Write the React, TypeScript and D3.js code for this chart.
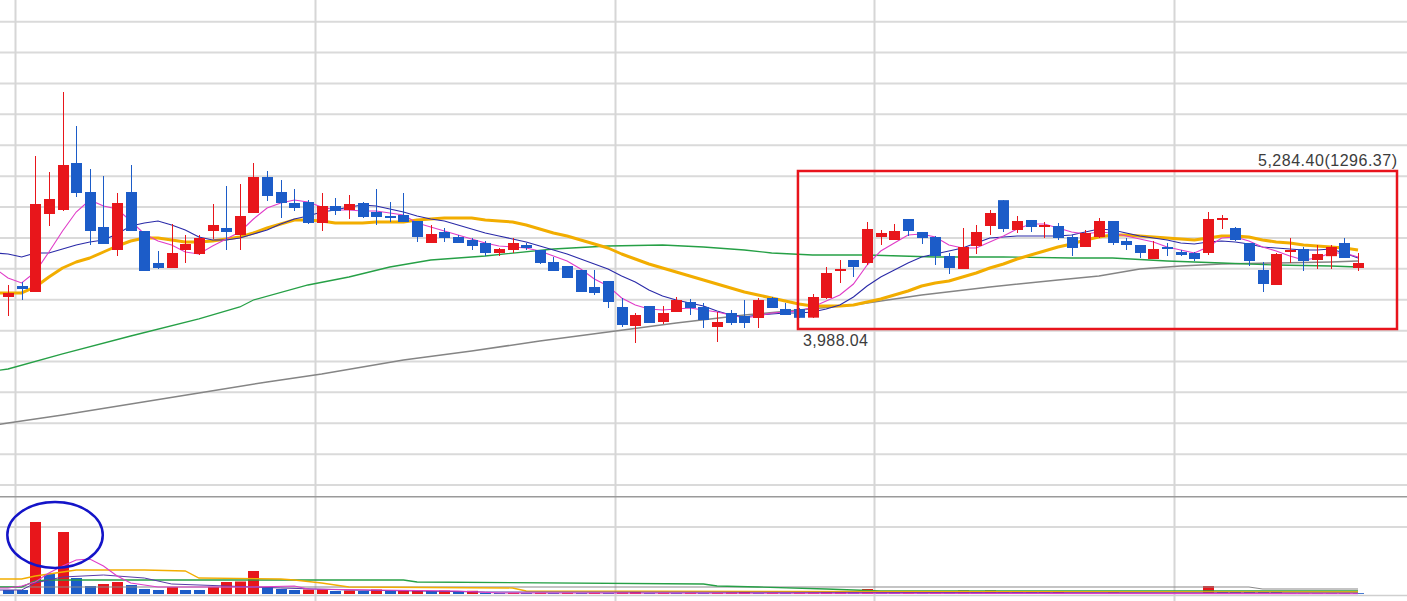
import React from 'react';
import * as d3 from 'd3';

const W = 1407;
const H = 601;

// ---- daily candles (price units) ----
const OPEN = [
  4219, 4340, 4274, 5132, 5176, 5693, 5374, 4989, 4736, 5374,
  4945, 4593, 4538, 4736, 4692, 4945, 4978, 4901, 5143, 5539,
  5374, 5253, 5264, 5033, 5220, 5176, 5253, 5154, 5110, 5121,
  5055, 4813, 4934, 4879, 4846, 4813, 4703, 4736, 4791, 4736,
  4604, 4560, 4516, 4329, 4395, 4109, 3900, 4120, 3944, 4054,
  4164, 4109, 3889, 4043, 4010, 3988, 4208, 4087, 4087, 3992,
  4208, 4505, 4626, 4593, 4879, 4846, 5077, 4934, 4879, 4670,
  4527, 4780, 5000, 5284.4, 4956, 5066, 4989, 5000, 4879, 4769,
  4879, 5055, 4835, 4791, 4637, 4769, 4714, 4703, 4703, 5066,
  4978, 4813, 4516, 4351, 4714, 4747, 4626, 4668, 4813, 4538,
];
const HIGH = [
  4351, 4384, 5770, 5594, 6474, 6100, 5627, 5550, 5363, 5671,
  4945, 4725, 5022, 4901, 4901, 5242, 5440, 5462, 5693, 5605,
  5506, 5407, 5286, 5363, 5308, 5341, 5264, 5407, 5264, 5363,
  5055, 5011, 4978, 4901, 4868, 4835, 4758, 4868, 4813, 4736,
  4659, 4560, 4516, 4516, 4395, 4208, 4043, 4120, 4120, 4219,
  4197, 4153, 4054, 4076, 4186, 4208, 4219, 4153, 4098, 4252,
  4549, 4626, 4626, 5044, 4956, 5022, 5077, 4934, 4890, 4703,
  4978, 5011, 5176, 5284.4, 5110, 5066, 5044, 5033, 4901, 4956,
  5088, 5055, 4868, 4791, 4835, 4813, 4736, 4714, 5154, 5121,
  4989, 4813, 4604, 4703, 4868, 4769, 4791, 4791, 4868, 4703,
];
const LOW = [
  4010, 4186, 4274, 5000, 5165, 5319, 4791, 4802, 4670, 4945,
  4505, 4527, 4538, 4593, 4681, 4857, 4736, 4736, 5143, 5275,
  5088, 5165, 5022, 4945, 5121, 5077, 5088, 5011, 5044, 5044,
  4824, 4813, 4824, 4813, 4736, 4670, 4670, 4703, 4736, 4582,
  4505, 4428, 4274, 4241, 4098, 3889, 3713, 3933, 3922, 4054,
  4021, 3878, 3724, 3911, 3878, 3878, 4098, 4021, 3990, 3988.04,
  4197, 4373, 4439, 4571, 4791, 4846, 4890, 4802, 4571, 4472,
  4527, 4692, 4901, 4934, 4923, 4934, 4868, 4846, 4670, 4769,
  4868, 4791, 4736, 4648, 4637, 4670, 4670, 4615, 4681, 4967,
  4835, 4560, 4274, 4351, 4593, 4505, 4527, 4527, 4648, 4505,
];
const CLOSE = [
  4263, 4307, 5242, 5297, 5671, 5363, 4945, 4802, 5253, 4945,
  4505, 4538, 4703, 4802, 4868, 5011, 4934, 5110, 5539, 5330,
  5253, 5198, 5033, 5220, 5165, 5242, 5099, 5099, 5099, 5044,
  4879, 4912, 4868, 4813, 4780, 4703, 4747, 4813, 4758, 4593,
  4505, 4428, 4274, 4263, 4164, 3911, 4021, 3933, 4043, 4186,
  4098, 3966, 3944, 3933, 3933, 4186, 4098, 4021, 3990, 4219,
  4483, 4527, 4549, 4967, 4923, 4945, 4945, 4868, 4670, 4538,
  4769, 4934, 5143, 4967, 5055, 4989, 5011, 4868, 4758, 4923,
  5055, 4813, 4791, 4703, 4747, 4747, 4681, 4637, 5077, 5088,
  4846, 4615, 4362, 4692, 4736, 4615, 4692, 4769, 4648, 4593,
];
const VOLUME = [
  40, 40, 720, 200, 620, 160, 80, 100, 120, 90,
  50, 40, 70, 40, 40, 70, 120, 125, 230, 70,
  50, 40, 45, 50, 30, 35, 30, 45, 30, 35,
  38, 30, 35, 28, 32, 12, 10, 12, 10, 12,
  10, 12, 10, 12, 10, 15, 20, 10, 12, 10,
  12, 10, 12, 15, 20, 10, 12, 10, 12, 15,
  25, 30, 20, 50, 20, 20, 22, 20, 22, 20,
  35, 20, 35, 20, 20, 20, 20, 22, 10, 10,
  10, 15, 10, 10, 10, 10, 10, 10, 80, 20,
  20, 20, 20, 20, 10, 10, 10, 10, 10, 8,
];

// ---- moving averages ----
// value on the day before the first visible candle: MA5, MA10, MA20
const MA_PRIOR_DAY = [4538, 4703, 4263];
const MA5 = [
  4428, 4373, 4494, 4714, 4945, 5154, 5286, 5220, 5187, 5055,
  4912, 4835, 4791, 4714, 4692, 4780, 4857, 4934, 5077, 5198,
  5253, 5286, 5264, 5209, 5176, 5176, 5165, 5165, 5143, 5121,
  5033, 4989, 4945, 4901, 4857, 4813, 4780, 4769, 4758, 4725,
  4670, 4615, 4527, 4417, 4340, 4208, 4131, 4087, 4076, 4087,
  4098, 4076, 4054, 4021, 3988, 4010, 4043, 4054, 4065, 4109,
  4175, 4241, 4362, 4571, 4725, 4813, 4901, 4912, 4879, 4791,
  4758, 4758, 4824, 4890, 4967, 5022, 5022, 4978, 4934, 4912,
  4934, 4923, 4890, 4857, 4824, 4769, 4736, 4703, 4769, 4868,
  4879, 4835, 4769, 4725, 4670, 4626, 4648, 4703, 4703, 4659,
];
const MA10 = [
  4692, 4659, 4703, 4703, 4747, 4791, 4824, 4846, 4912, 5000,
  5033, 5055, 5011, 4956, 4879, 4846, 4846, 4868, 4912, 4956,
  5022, 5077, 5110, 5154, 5176, 5209, 5231, 5220, 5187, 5154,
  5110, 5077, 5055, 5011, 4967, 4923, 4890, 4857, 4824, 4780,
  4736, 4692, 4637, 4582, 4527, 4450, 4384, 4296, 4230, 4186,
  4153, 4120, 4065, 4021, 3999, 4021, 4032, 4043, 4043, 4054,
  4087, 4131, 4219, 4340, 4439, 4516, 4593, 4659, 4692, 4725,
  4758, 4813, 4868, 4879, 4890, 4890, 4890, 4890, 4901, 4934,
  4967, 4956, 4923, 4890, 4868, 4846, 4813, 4802, 4824, 4835,
  4824, 4802, 4769, 4758, 4747, 4736, 4736, 4747, 4703, 4648,
];
const MA20 = [
  4263, 4263, 4329, 4439, 4538, 4604, 4648, 4714, 4780, 4835,
  4868, 4868, 4846, 4824, 4824, 4835, 4857, 4879, 4923, 4978,
  5022, 5066, 5066, 5055, 5033, 5033, 5033, 5044, 5044, 5044,
  5066, 5077, 5088, 5088, 5088, 5066, 5055, 5044, 5011, 4967,
  4923, 4890, 4846, 4802, 4758, 4692, 4637, 4582, 4538, 4494,
  4450, 4406, 4362, 4318, 4274, 4241, 4208, 4175, 4142, 4120,
  4120, 4120, 4131, 4164, 4197, 4241, 4285, 4340, 4373, 4395,
  4439, 4483, 4538, 4582, 4637, 4681, 4725, 4769, 4802, 4846,
  4879, 4901, 4901, 4890, 4879, 4868, 4857, 4846, 4868, 4890,
  4890, 4879, 4846, 4824, 4813, 4791, 4780, 4769, 4758, 4736,
];
// [day index, value]
const MA60: [number, number][] = [
  [-1, 3405], [0, 3427], [4, 3592], [9, 3790], [14, 3977], [17, 4109], [18, 4186],
  [22, 4351], [25, 4439], [28, 4549], [31, 4626], [35, 4670], [40, 4747],
  [44, 4780], [48, 4791], [51, 4769], [54, 4736], [56, 4703], [59, 4681],
  [63, 4681], [68, 4659], [73, 4659], [78, 4648], [81, 4648], [85, 4615],
  [89, 4593], [93, 4571], [97, 4560], [99, 4549],
];
const MA120: [number, number][] = [
  [-1, 2811], [0, 2833], [4, 2921], [9, 3042], [14, 3163], [19, 3284], [23, 3372],
  [29, 3526], [34, 3625], [39, 3735], [44, 3834], [49, 3933], [54, 4021],
  [58, 4076], [62, 4131], [67, 4241], [72, 4329], [77, 4406], [80, 4450],
  [83, 4527], [86, 4560], [89, 4582], [93, 4593], [97, 4604], [99, 4615],
];
// volume averages [day index, value]
const VMA5: [number, number][] = [
  [-1, 60], [0, 60], [1, 80], [2, 120], [3, 210], [4, 280], [5, 340], [6, 350], [7, 280],
  [8, 180], [9, 110], [10, 90], [11, 70], [18, 70], [21, 80], [22, 50], [27, 40],
  [33, 30], [36, 10], [99, 3],
];
const VMA10: [number, number][] = [
  [-1, 40], [0, 40], [1, 40], [2, 110], [4, 170], [7, 190], [10, 160], [12, 100], [20, 60],
  [25, 40], [35, 20], [99, 10],
];
const VMA20: [number, number][] = [
  [-1, 150], [0, 150], [1, 150], [2, 180], [5, 240], [10, 240], [13, 230], [14, 160], [20, 150],
  [21, 140], [23, 110], [25, 70], [37, 60], [38, 30], [99, 20],
];
const VMA60: [number, number][] = [
  [-1, 70], [0, 70], [1, 70], [2, 130], [3, 140], [29, 140], [30, 120], [51, 100], [52, 80],
  [55, 70], [60, 50], [64, 30], [99, 30],
];
const VMA120: [number, number][] = [[-1, 70], [0, 70], [91, 70], [92, 50], [99, 50]];

const MONTH_STARTS = [1, 23, 45, 64, 86];
const PRICE_GRID = [7247, 6908, 6568, 6228, 5888, 5548, 5209, 4869, 4529, 4189, 3849, 3510, 3170, 2830, 2490, 2151];
const VOLUME_GRID = [670];

// annotation
const RANGE_HIGH = 5284.4;
const RANGE_LOW = 3988.04;
const RANGE_DIFF = 1296.37;
const BOX_FROM = 57.93;
const BOX_TO = 101.86;
const BOX_TOP = 5605;
const BOX_BOTTOM = 3867;

const RED = '#e8161b';
const BLUE = '#1c5cc8';

export default function App() {
  const x = d3.scaleLinear().domain([0, 99]).range([8, 1358]);
  const step = x(1) - x(0);
  const yP = d3.scaleLinear().domain([2036, 7486]).range([495.45, 0]);
  const yV = d3.scaleLinear().domain([0, 1000]).range([594, 494]);

  const withPrior = (arr: number[], prior: number): [number, number][] =>
    [[-1, prior] as [number, number]].concat(arr.map((v, i) => [i, v] as [number, number]));
  const linePairs = d3.line<[number, number]>().x((d) => x(d[0])).y((d) => yP(d[1]));
  const vLinePairs = d3.line<[number, number]>().x((d) => x(d[0])).y((d) => yV(d[1]));

  const fmt2 = d3.format(',.2f');
  const fmtPlain = d3.format('.2f');
  const font = "'Liberation Sans', Arial, sans-serif";

  const bx0 = x(BOX_FROM);
  const bx1 = x(BOX_TO);
  const by0 = yP(BOX_TOP);
  const by1 = yP(BOX_BOTTOM);

  return (
    <div style={{ position: 'absolute', left: 0, top: 0 }}>
      <svg width={W} height={H} style={{ display: 'block', background: '#fff' }}>
        <defs>
          <clipPath id="plotClip">
            <rect x={0} y={0} width={W} height={H} />
          </clipPath>
        </defs>
        {/* price grid */}
        {PRICE_GRID.map((p) => (
          <line key={'pg' + p} x1={0} x2={W} y1={yP(p)} y2={yP(p)} stroke="#dadada" strokeWidth={2} />
        ))}
        {VOLUME_GRID.map((v) => (
          <line key={'vg' + v} x1={0} x2={W} y1={yV(v)} y2={yV(v)} stroke="#dadada" strokeWidth={2} />
        ))}
        {MONTH_STARTS.map((m) => (
          <line key={'mg' + m} x1={Math.round(x(m - 0.5)) + 0.5} x2={Math.round(x(m - 0.5)) + 0.5} y1={0} y2={H} stroke="#d6d6d6" strokeWidth={2} />
        ))}
        <line x1={0} x2={W} y1={496.7} y2={496.7} stroke="#9a9a9a" strokeWidth={1.5} />
        <line x1={0} x2={W} y1={595.5} y2={595.5} stroke="#cfcfcf" strokeWidth={1.5} />

        <g clipPath="url(#plotClip)">
          {/* price moving averages */}
          <path d={linePairs(MA120) || ''} fill="none" stroke="#858585" strokeWidth={1.5} />
          <path d={linePairs(MA60) || ''} fill="none" stroke="#26a046" strokeWidth={1.3} />
          <path d={linePairs(withPrior(MA20, MA_PRIOR_DAY[2])) || ''} fill="none" stroke="#f2ad00" strokeWidth={3} strokeLinejoin="round" />
          <path d={linePairs(withPrior(MA10, MA_PRIOR_DAY[1])) || ''} fill="none" stroke="#2a2aa8" strokeWidth={1.1} />
          <path d={linePairs(withPrior(MA5, MA_PRIOR_DAY[0])) || ''} fill="none" stroke="#e03cc8" strokeWidth={1.1} />

          {/* candles */}
          {OPEN.map((o, i) => {
            const c = CLOSE[i];
            const up = c >= o;
            const col = up ? RED : BLUE;
            const cx = Math.round(x(i));
            const top = yP(Math.max(o, c));
            const bot = yP(Math.min(o, c));
            return (
              <g key={'c' + i}>
                <rect x={cx} y={yP(HIGH[i])} width={1} height={Math.max(1, yP(LOW[i]) - yP(HIGH[i]))} fill={col} />
                <rect x={cx - 5} y={top} width={11} height={Math.max(2, bot - top)} fill={col} />
              </g>
            );
          })}

          {/* volume bars */}
          {VOLUME.map((v, i) => {
            const up = i === 0 ? false : v > VOLUME[i - 1];
            const cx = Math.round(x(i));
            return (
              <rect key={'v' + i} x={cx - 5} y={yV(v)} width={11} height={yV(0) - yV(v)} fill={up ? RED : BLUE} />
            );
          })}
          {/* volume averages */}
          <path d={vLinePairs(VMA120) || ''} fill="none" stroke="#8a8a8a" strokeWidth={1.2} />
          <path d={vLinePairs(VMA60) || ''} fill="none" stroke="#26a046" strokeWidth={1.3} />
          <path d={vLinePairs(VMA20) || ''} fill="none" stroke="#f2ad00" strokeWidth={1.3} />
          <path d={vLinePairs(VMA10) || ''} fill="none" stroke="#5a3aa8" strokeWidth={1} />
          <path d={vLinePairs(VMA5) || ''} fill="none" stroke="#e03cc8" strokeWidth={1.1} />
        </g>

        {/* annotations */}
        <rect x={bx0} y={by0} width={bx1 - bx0} height={by1 - by0} fill="none" stroke="#e8141c" strokeWidth={2.5} />
        <text x={bx1} y={by0 - 5} textAnchor="end" fontFamily={font} fontSize={16} fill="#3c3c3c" textLength={139} lengthAdjust="spacing">
          {fmt2(RANGE_HIGH)}({fmtPlain(RANGE_DIFF)})
        </text>
        <text x={bx0 + 5} y={by1 + 17} fontFamily={font} fontSize={16} fill="#3c3c3c" textLength={65} lengthAdjust="spacing">
          {fmt2(RANGE_LOW)}
        </text>
        <ellipse cx={x(3.45)} cy={yV(590)} rx={step * 3.5} ry={yV(0) - yV(330)} fill="none" stroke="#1414c8" strokeWidth={2.5} />
      </svg>
    </div>
  );
}
